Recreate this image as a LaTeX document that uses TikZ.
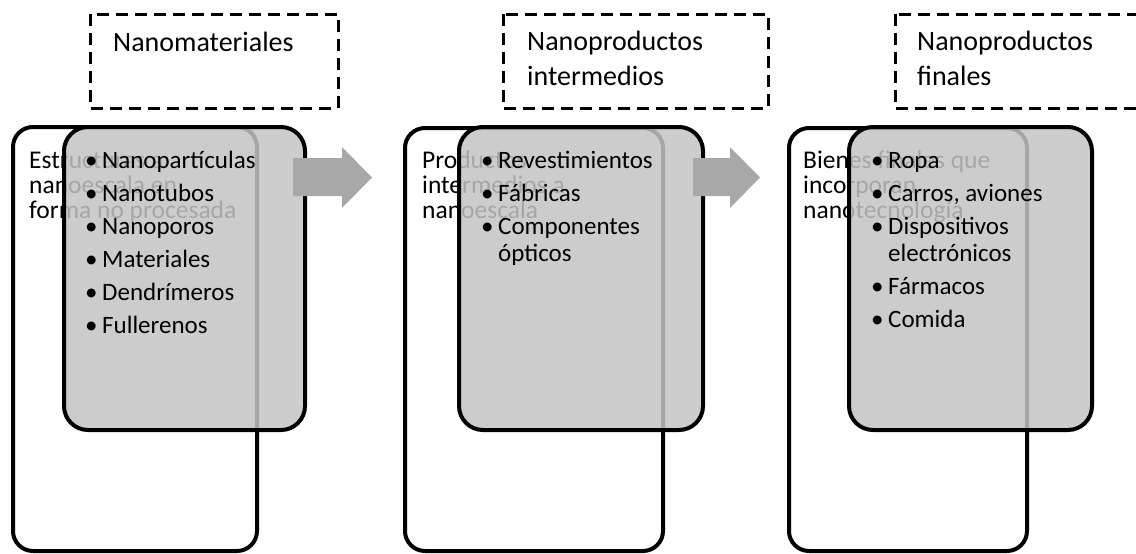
\documentclass[tikz,border=0pt]{standalone}
\usepackage{fontspec}
\setmainfont{Carlito}
\definecolor{panelgray}{RGB}{196,196,196}
\definecolor{arrowgray}{RGB}{168,168,168}

\newlength\bulletgap
\setlength\bulletgap{17pt}
% one bulleted line, continuation lines hang under the text
\newcommand\bitem[1]{\par\hangindent=\bulletgap\hangafter=1\noindent\makebox[\bulletgap][l]{\textbullet}#1}

\tikzset{
  outerbox/.style={draw=black, line width=4pt, fill=white, rounded corners=20pt, inner sep=0pt},
  innerbox/.style={draw=black, line width=4pt, fill=panelgray, fill opacity=0.85, rounded corners=24pt, inner sep=0pt},
  labelbox/.style={draw=black, line width=3pt, dash pattern=on 12pt off 7pt, inner sep=0pt},
  bodytext/.style={anchor=base west, inner sep=0pt, font=\fontsize{25.5}{25}\selectfont},
  listtext/.style={anchor=base west, inner sep=0pt, font=\fontsize{25}{27}\selectfont},
  headtext/.style={anchor=base west, inner sep=0pt, font=\fontsize{28}{35}\selectfont},
  blockarrow/.style={fill=arrowgray, draw=none},
}

\begin{document}
\begin{tikzpicture}[x=1pt, y=-1pt]
\useasboundingbox (0,0) rectangle (1136,554);
\clip (0,0) rectangle (1136,554);

% dashed stage titles
\draw[labelbox] (90,14) rectangle (338,108);
\node[headtext] (t1) at (113,51) {\parbox[t]{220pt}{Nanomateriales}};
\draw[labelbox] (503,14) rectangle (768,108);
\node[headtext] (t2) at (527,50) {\parbox[t]{230pt}{Nanoproductos\\intermedios}};
\draw[labelbox] (895,14) rectangle (1170,108);
\node[headtext] (t3) at (917,50) {\parbox[t]{230pt}{Nanoproductos\\finales}};

% stage 1
\node[outerbox, minimum width=244pt, minimum height=424pt] (w1) at (135,339) {};
\node[bodytext] (d1) at (29,168) {\parbox[t]{230pt}{Estructuras a\\nanoescala en\\forma no procesada}};
\node[innerbox, minimum width=241pt, minimum height=303pt] (g1) at (184.5,278.5) {};
\node[listtext] (l1) at (85,168) {\parbox[t]{220pt}{\raggedright\setlength\parskip{6pt}%
  \bitem{Nanopartículas}\bitem{Nanotubos}\bitem{Nanoporos}\bitem{Materiales}\bitem{Dendrímeros}\bitem{Fullerenos}}};

% stage 2
\node[outerbox, minimum width=258pt, minimum height=423pt] (w2) at (534,339.5) {};
\node[bodytext] (d2) at (422,168) {\parbox[t]{230pt}{Productos\\intermedios a\\nanoescala}};
\node[innerbox, minimum width=244pt, minimum height=303pt] (g2) at (581,278.5) {};
\node[listtext] (l2) at (481,168) {\parbox[t]{220pt}{\raggedright\setlength\parskip{6pt}%
  \bitem{Revestimientos}\bitem{Fábricas}\bitem{Componentes\newline ópticos}}};

% stage 3
\node[outerbox, minimum width=238pt, minimum height=423pt] (w3) at (908,339.5) {};
\node[bodytext] (d3) at (803,168) {\parbox[t]{230pt}{Bienes finales que\\incorporan\\nanotecnología}};
\node[innerbox, minimum width=243pt, minimum height=303pt] (g3) at (970.5,278.5) {};
\node[listtext] (l3) at (871,168) {\parbox[t]{205pt}{\raggedright\setlength\parskip{6pt}%
  \bitem{Ropa}\bitem{Carros, aviones}\bitem{Dispositivos\newline electrónicos}\bitem{Fármacos}\bitem{Comida}}};

% block arrows between the stages
\fill[blockarrow] (293,158) -- (342,158) -- (342,147) -- (372,177.5) -- (342,208) -- (342,196) -- (293,196) -- cycle;
\fill[blockarrow] (693,158) -- (730,158) -- (730,147) -- (760,177.5) -- (730,208) -- (730,196) -- (693,196) -- cycle;
\end{tikzpicture}
\end{document}
